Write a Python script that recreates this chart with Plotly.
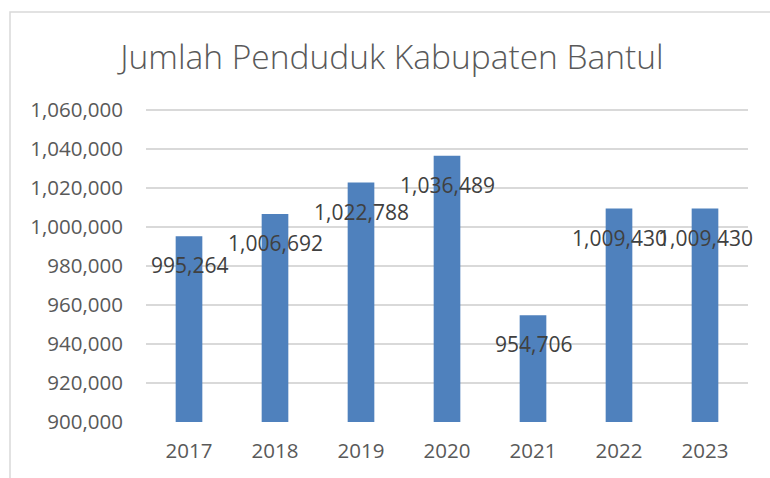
import plotly.graph_objects as go

years = ["2017", "2018", "2019", "2020", "2021", "2022", "2023"]
population = [995264, 1006692, 1022788, 1036489, 954706, 1009430, 1009430]
y_ticks = [900000, 920000, 940000, 960000, 980000, 1000000, 1020000, 1040000, 1060000]
title_text = "Jumlah Penduduk Kabupaten Bantul"

W, H = 770, 478
L, R, T, B = 146, 22, 108, 56
pw = W - L - R
ph = H - T - B

def px_x(p):
    return (p - L) / pw

def px_y(p):
    return (H - B - p) / ph

fig = go.Figure()
fig.add_trace(go.Bar(
    x=years, y=population,
    marker=dict(color="#4F81BD", line=dict(width=0)),
    hoverinfo="skip",
))

annotations = []
for i, v in enumerate(population):
    annotations.append(dict(
        x=i, y=v, xref="x", yref="y", text=f"{v:,}", showarrow=False,
        yanchor="middle", xanchor="center", yshift=-29,
        font=dict(family="Open Sans", size=21, color="#404040"),
    ))

shapes = [
    dict(type="rect", xref="paper", yref="paper",
         x0=px_x(10), x1=px_x(800), y0=px_y(500), y1=px_y(12),
         line=dict(color="#D9D9D9", width=1.5), fillcolor="rgba(0,0,0,0)", layer="below"),
]

fig.update_layout(
    width=W, height=H,
    margin=dict(l=L, r=R, t=T, b=B, pad=0),
    paper_bgcolor="white", plot_bgcolor="white",
    bargap=0.69,
    showlegend=False,
    title=dict(text=title_text, x=392 / W, xanchor="center", xref="container",
               y=1 - 57 / H, yanchor="middle", yref="container",
               font=dict(family="Open Sans", size=33.5, color="#595959", weight=300)),
    xaxis=dict(type="category", categoryorder="array", categoryarray=years,
               range=[-0.5, len(years) - 0.5],
               showgrid=False, zeroline=False, showline=False,
               ticks="", ticklabelstandoff=14,
               tickfont=dict(family="Open Sans", size=20.5, color="#595959")),
    yaxis=dict(range=[900000, 1061000], tickvals=y_ticks,
               ticktext=[f"{t:,}" for t in y_ticks],
               showgrid=True, gridcolor="#D9D9D9", gridwidth=1.5,
               zeroline=False, showline=False, ticks="", ticklabelstandoff=22,
               tickfont=dict(family="Open Sans", size=20.5, color="#595959")),
    annotations=annotations,
    shapes=shapes,
)

fig.write_html("out.html")
